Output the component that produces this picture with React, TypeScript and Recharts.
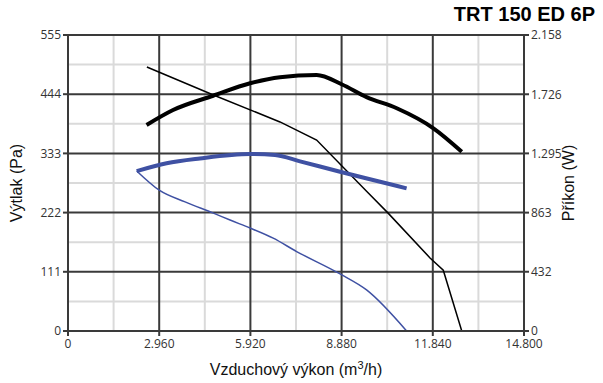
import React from "react";
import { ComposedChart, Line, XAxis, YAxis, ReferenceLine } from "recharts";

const flowTicks = [0, 2960, 5920, 8880, 11840, 14800];
const flowMinor = [1480, 4440, 7400, 10360, 13320];
const pressureTicks = [0, 111, 222, 333, 444, 555];
const pressureMinor = [55.5, 166.5, 277.5, 388.5, 499.5];
const powerTicks = [0, 432, 863, 1295, 1726, 2158];

// black = higher speed, blue = lower speed
const blackPressureFlow = [2560, 4700, 6880, 8070, 9690, 10390, 11750, 12180, 12780];
const blackPressureValues = [495, 443, 392, 358, 262, 221, 137, 114, 0];

const blackPowerFlow = [2550, 3410, 4710, 5910, 6880, 8070, 8880, 9690, 10670, 11860, 12780];
const blackPowerValues = [1502, 1611, 1715, 1806, 1850, 1866, 1799, 1705, 1624, 1478, 1307];

const bluePressureFlow = [2230, 2960, 3800, 4720, 5260, 5910, 6660, 7420, 8830, 9690, 10990];
const bluePressureValues = [300, 264, 242, 221, 208, 193, 174, 149, 107, 77, 0];

const bluePowerFlow = [2230, 3200, 4280, 5910, 6720, 7530, 8830, 9900, 10990];
const bluePowerValues = [1166, 1223, 1258, 1290, 1283, 1237, 1161, 1101, 1040];

const zip = (xs: number[], ys: number[]) => xs.map((x, i) => ({ x, y: ys[i] }));

const dark = "#3a3a3a";
const light = "#dadada";
const blue = "#3f51a3";
const tickFont = { fontSize: 12, fill: "#333", fontFamily: "'Open Sans', sans-serif" };

const fmt = (v: number) => (v >= 1000 ? `${Math.floor(v / 1000)}.${String(v % 1000).padStart(3, "0")}` : String(v));

export default function App() {
  return (
    <div style={{ position: "absolute", left: 0, top: 0, width: 603, height: 383, background: "#fff" }}>
      <div
        style={{
          position: "absolute",
          right: 8,
          top: 3,
          fontFamily: "'Liberation Sans', Arial, sans-serif",
          fontWeight: "bold",
          fontSize: 20,
          color: "#000",
        }}
      >
        TRT 150 ED 6P
      </div>
      <ComposedChart width={603} height={383} margin={{ top: 35, right: 0, left: 0, bottom: 0 }}>
        <XAxis
          type="number"
          dataKey="x"
          xAxisId="f"
          domain={[0, 14800]}
          ticks={flowTicks}
          tickFormatter={fmt}
          tick={tickFont}
          axisLine={{ stroke: dark, strokeWidth: 2 }}
          tickLine={{ stroke: dark, strokeWidth: 2 }}
          tickSize={5}
          tickMargin={3}
          height={52}
          label={{
            content: ({ viewBox }: any) => (
              <text
                x={viewBox.x + viewBox.width / 2}
                y={viewBox.y + 44}
                textAnchor="middle"
                fontSize={16}
                fontFamily="'Liberation Sans', Arial, sans-serif"
                fill="#111"
              >
                <tspan>Vzduchový výkon (m</tspan>
                <tspan dy={-6} fontSize={11}>3</tspan>
                <tspan dy={6}>/h)</tspan>
              </text>
            ),
          }}
        />
        <YAxis
          yAxisId="p"
          orientation="left"
          type="number"
          domain={[0, 555]}
          ticks={pressureTicks}
          tick={tickFont}
          width={68}
          axisLine={{ stroke: dark, strokeWidth: 2 }}
          tickLine={{ stroke: dark, strokeWidth: 2 }}
          tickSize={5}
          label={{
            content: ({ viewBox }: any) => (
              <text
                x={22}
                y={viewBox.y + viewBox.height / 2}
                textAnchor="middle"
                fontSize={16}
                fontFamily="'Liberation Sans', Arial, sans-serif"
                fill="#111"
                transform={`rotate(-90, 22, ${viewBox.y + viewBox.height / 2})`}
              >
                Výtlak (Pa)
              </text>
            ),
          }}
        />
        <YAxis
          yAxisId="w"
          orientation="right"
          type="number"
          domain={[0, 2158]}
          ticks={powerTicks}
          tickFormatter={fmt}
          tick={tickFont}
          width={79}
          axisLine={{ stroke: dark, strokeWidth: 2 }}
          tickLine={{ stroke: dark, strokeWidth: 2 }}
          tickSize={5}
          label={{
            content: ({ viewBox }: any) => (
              <text
                x={574}
                y={viewBox.y + viewBox.height / 2}
                textAnchor="middle"
                fontSize={16}
                fontFamily="'Liberation Sans', Arial, sans-serif"
                fill="#111"
                transform={`rotate(-90, 574, ${viewBox.y + viewBox.height / 2})`}
              >
                Příkon (W)
              </text>
            ),
          }}
        />
        {flowMinor.map((v) => (
          <ReferenceLine key={`fx${v}`} x={v} xAxisId="f" yAxisId="p" stroke={light} strokeWidth={2} />
        ))}
        {pressureMinor.map((v) => (
          <ReferenceLine key={`py${v}`} y={v} xAxisId="f" yAxisId="p" stroke={light} strokeWidth={2} />
        ))}
        {flowTicks.slice(1).map((v) => (
          <ReferenceLine key={`Fx${v}`} x={v} xAxisId="f" yAxisId="p" stroke={dark} strokeWidth={2} />
        ))}
        {pressureTicks.slice(1).map((v) => (
          <ReferenceLine key={`Py${v}`} y={v} xAxisId="f" yAxisId="p" stroke={dark} strokeWidth={2} />
        ))}
        <Line
          data={zip(blackPressureFlow, blackPressureValues)}
          dataKey="y"
          xAxisId="f"
          yAxisId="p"
          type="linear"
          stroke="#000"
          strokeWidth={1.5}
          dot={false}
          isAnimationActive={false}
        />
        <Line
          data={zip(blackPowerFlow, blackPowerValues)}
          dataKey="y"
          xAxisId="f"
          yAxisId="w"
          type="monotone"
          stroke="#000"
          strokeWidth={4}
          dot={false}
          isAnimationActive={false}
        />
        <Line
          data={zip(bluePressureFlow, bluePressureValues)}
          dataKey="y"
          xAxisId="f"
          yAxisId="p"
          type="monotone"
          stroke={blue}
          strokeWidth={1.5}
          dot={false}
          isAnimationActive={false}
        />
        <Line
          data={zip(bluePowerFlow, bluePowerValues)}
          dataKey="y"
          xAxisId="f"
          yAxisId="w"
          type="monotone"
          stroke={blue}
          strokeWidth={4}
          dot={false}
          isAnimationActive={false}
        />
      </ComposedChart>
    </div>
  );
}
